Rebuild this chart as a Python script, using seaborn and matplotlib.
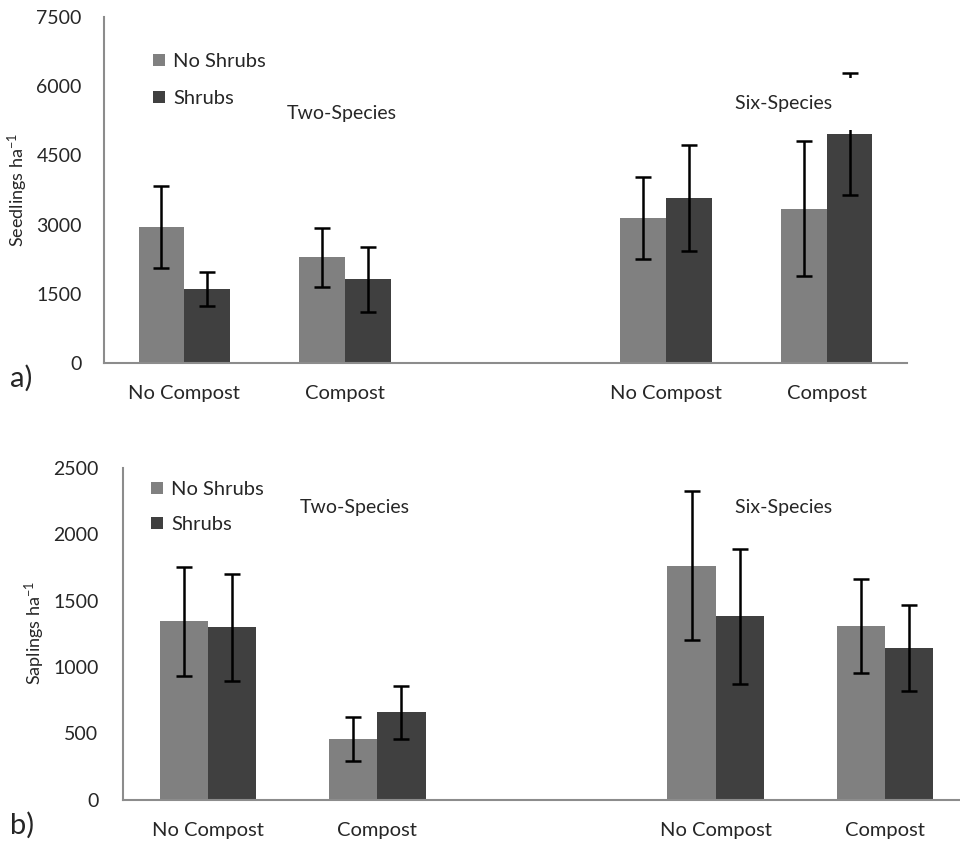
import matplotlib
matplotlib.use("Agg")
import matplotlib.pyplot as plt
import seaborn as sns
import pandas as pd
import numpy as np

# ---- data ----
groups = ["Two NC", "Two C", "gap", "Six NC", "Six C"]
bar_groups = ["Two NC", "Two C", "Six NC", "Six C"]
tick_labels = ["No Compost", "Compost", "", "No Compost", "Compost"]
treatments = ["No Shrubs", "Shrubs"]

seed_noshrub = [2955, 2290, 3140, 3345]
seed_noshrub_err = [890, 640, 885, 1466]
seed_shrub = [1600, 1815, 3577, 4960]
seed_shrub_err = [370, 705, 1142, 1320]

sap_noshrub = [1345, 458, 1760, 1310]
sap_noshrub_err = [410, 168, 560, 355]
sap_shrub = [1300, 658, 1380, 1142]
sap_shrub_err = [403, 197, 510, 326]

colors = ["#808080", "#404040"]

sns.set_style("white")
plt.rcParams["font.family"] = ["Lato", "DejaVu Sans"]

fig = plt.figure(figsize=(9.6, 8.43), dpi=100)
ax1 = fig.add_axes([104 / 960, 1 - 363 / 843, (907 - 104) / 960, (363 - 17) / 843])
ax2 = fig.add_axes([123.5 / 960, 1 - 800 / 843, (969.5 - 123.5) / 960, (800 - 467.5) / 843])

spine_col = "#8c8c8c"


def make_panel(ax, noshrub, noshrub_err, shrub, shrub_err, ymax, yticks,
               ytick_pad, legend_anchor, legend_spacing, two_pos, six_pos,
               six_box=False):
    df = pd.DataFrame({
        "group": bar_groups * 2,
        "treatment": [treatments[0]] * 4 + [treatments[1]] * 4,
        "value": noshrub + shrub,
    })
    sns.barplot(data=df, x="group", y="value", hue="treatment", order=groups,
                hue_order=treatments, palette=colors, width=0.57, gap=0,
                errorbar=None, ax=ax, saturation=1, linewidth=0, zorder=2)
    # error bars at bar centres
    errs = [noshrub_err, shrub_err]
    bar_conts = list(ax.containers)
    for ci, cont in enumerate(bar_conts):
        bars = sorted(cont.patches, key=lambda p: p.get_x())
        xs = [b.get_x() + b.get_width() / 2 for b in bars]
        hs = [b.get_height() for b in bars]
        ax.errorbar(xs, hs, yerr=errs[ci], fmt="none", ecolor="black",
                    elinewidth=1.8, capsize=5.5, capthick=1.8, zorder=3)
    ax.set_ylim(0, ymax)
    ax.set_xlim(-0.5, 4.5)
    ax.set_yticks(yticks)
    ax.set_yticklabels([str(t) for t in yticks], fontsize=14)
    ax.set_xticks(range(5))
    ax.set_xticklabels(tick_labels, fontsize=14.5)
    ax.tick_params(axis="x", length=0, pad=16)
    ax.tick_params(axis="y", length=6, width=1.5, color=spine_col,
                   pad=ytick_pad, direction="out")
    ax.set_xlabel("")
    ax.set_ylabel("")
    for s in ["top", "right"]:
        ax.spines[s].set_visible(False)
    for s in ["left", "bottom"]:
        ax.spines[s].set_color(spine_col)
        ax.spines[s].set_linewidth(1.5)
    ax.grid(False)
    ax.legend(loc="upper left", bbox_to_anchor=legend_anchor, frameon=False,
              fontsize=14.5, handlelength=0.6, handleheight=0.6,
              handletextpad=0.4, labelspacing=legend_spacing, borderaxespad=0)
    ax.text(two_pos[0], two_pos[1], "Two-Species", transform=ax.transAxes,
            fontsize=14, ha="left", va="center")
    kw = {}
    if six_box:
        kw["bbox"] = dict(facecolor="white", edgecolor="none",
                          boxstyle="square,pad=0.88")
    ax.text(six_pos[0], six_pos[1], "Six-Species ", transform=ax.transAxes,
            fontsize=14, ha="left", va="center", zorder=4, **kw)


make_panel(ax1, seed_noshrub, seed_noshrub_err, seed_shrub, seed_shrub_err,
           7500, [0, 1500, 3000, 4500, 6000, 7500], 10,
           ((145 - 104) / 803, (363 - 45) / 346), 1.0,
           ((287 - 104) / 803, (363 - 113) / 346),
           ((735 - 104) / 803, (363 - 104) / 346), six_box=True)

make_panel(ax2, sap_noshrub, sap_noshrub_err, sap_shrub, sap_shrub_err,
           2500, [0, 500, 1000, 1500, 2000, 2500], 12,
           ((143 - 123.5) / 846, (800 - 473) / 332.5), 0.9,
           ((300 - 123.5) / 846, (800 - 507) / 332.5),
           ((735 - 123.5) / 846, (800 - 507) / 332.5))

fig.text(18 / 960, 1 - 190 / 843, "Seedlings ha$\\mathregular{^{-1}}$",
         rotation=90, ha="center", va="center", fontsize=13)
fig.text(35 / 960, 1 - 633 / 843, "Saplings ha$\\mathregular{^{-1}}$",
         rotation=90, ha="center", va="center", fontsize=13)

fig.text(10 / 960, 1 - 378 / 843, "a)", fontsize=21, va="center", ha="left")
fig.text(10 / 960, 1 - 825 / 843, "b)", fontsize=21, va="center", ha="left")

fig.savefig("out.png", dpi=100)
